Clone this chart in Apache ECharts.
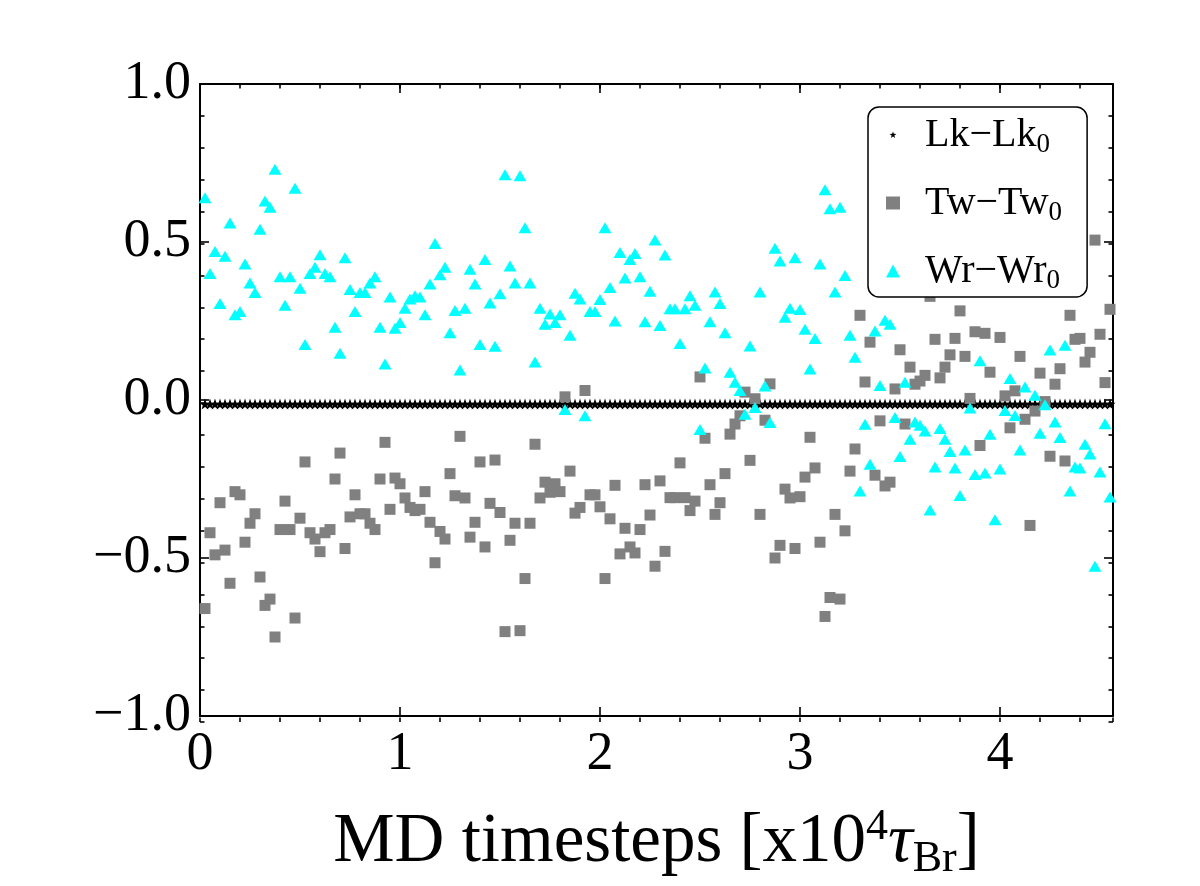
<!DOCTYPE html>
<html>
<head>
<meta charset="utf-8">
<script src="https://cdn.jsdelivr.net/npm/echarts@6/dist/echarts.min.js"></script>
<style>
  html, body { margin: 0; padding: 0; background: #fff; }
  #chart { width: 1200px; height: 886px; }
</style>
</head>
<body>
<div id="chart"></div>
<script>
// MD time axis, units of 1e4 tau_Br
const times = [
  0.025, 0.05, 0.075, 0.1, 0.125, 0.15, 0.175, 0.2, 0.225, 0.25,
  0.275, 0.3, 0.325, 0.35, 0.375, 0.4, 0.425, 0.45, 0.475, 0.5,
  0.525, 0.55, 0.575, 0.6, 0.625, 0.65, 0.675, 0.7, 0.725, 0.75,
  0.775, 0.8, 0.825, 0.85, 0.875, 0.9, 0.925, 0.95, 0.975, 1.0,
  1.025, 1.05, 1.075, 1.1, 1.125, 1.15, 1.175, 1.2, 1.225, 1.25,
  1.275, 1.3, 1.325, 1.35, 1.375, 1.4, 1.425, 1.45, 1.475, 1.5,
  1.525, 1.55, 1.575, 1.6, 1.625, 1.65, 1.675, 1.7, 1.725, 1.75,
  1.775, 1.8, 1.825, 1.85, 1.875, 1.9, 1.925, 1.95, 1.975, 2.0,
  2.025, 2.05, 2.075, 2.1, 2.125, 2.15, 2.175, 2.2, 2.225, 2.25,
  2.275, 2.3, 2.325, 2.35, 2.375, 2.4, 2.425, 2.45, 2.475, 2.5,
  2.525, 2.55, 2.575, 2.6, 2.625, 2.65, 2.675, 2.7, 2.725, 2.75,
  2.775, 2.8, 2.825, 2.85, 2.875, 2.9, 2.925, 2.95, 2.975, 3.0,
  3.025, 3.05, 3.075, 3.1, 3.125, 3.15, 3.175, 3.2, 3.225, 3.25,
  3.275, 3.3, 3.325, 3.35, 3.375, 3.4, 3.425, 3.45, 3.475, 3.5,
  3.525, 3.55, 3.575, 3.6, 3.625, 3.65, 3.675, 3.7, 3.725, 3.75,
  3.775, 3.8, 3.825, 3.85, 3.875, 3.9, 3.925, 3.95, 3.975, 4.0,
  4.025, 4.05, 4.075, 4.1, 4.125, 4.15, 4.175, 4.2, 4.225, 4.25,
  4.275, 4.3, 4.325, 4.35, 4.375, 4.4, 4.425, 4.45, 4.475, 4.5,
  4.525, 4.55
]

// Lk - Lk0 (flat, just under zero)
const lk = [
  -0.013, -0.013, -0.013, -0.013, -0.013, -0.013, -0.013, -0.013, -0.013, -0.013,
  -0.013, -0.013, -0.013, -0.013, -0.013, -0.013, -0.013, -0.013, -0.013, -0.013,
  -0.013, -0.013, -0.013, -0.013, -0.013, -0.013, -0.013, -0.013, -0.013, -0.013,
  -0.013, -0.013, -0.013, -0.013, -0.013, -0.013, -0.013, -0.013, -0.013, -0.013,
  -0.013, -0.013, -0.013, -0.013, -0.013, -0.013, -0.013, -0.013, -0.013, -0.013,
  -0.013, -0.013, -0.013, -0.013, -0.013, -0.013, -0.013, -0.013, -0.013, -0.013,
  -0.013, -0.013, -0.013, -0.013, -0.013, -0.013, -0.013, -0.013, -0.013, -0.013,
  -0.013, -0.013, -0.013, -0.013, -0.013, -0.013, -0.013, -0.013, -0.013, -0.013,
  -0.013, -0.013, -0.013, -0.013, -0.013, -0.013, -0.013, -0.013, -0.013, -0.013,
  -0.013, -0.013, -0.013, -0.013, -0.013, -0.013, -0.013, -0.013, -0.013, -0.013,
  -0.013, -0.013, -0.013, -0.013, -0.013, -0.013, -0.013, -0.013, -0.013, -0.013,
  -0.013, -0.013, -0.013, -0.013, -0.013, -0.013, -0.013, -0.013, -0.013, -0.013,
  -0.013, -0.013, -0.013, -0.013, -0.013, -0.013, -0.013, -0.013, -0.013, -0.013,
  -0.013, -0.013, -0.013, -0.013, -0.013, -0.013, -0.013, -0.013, -0.013, -0.013,
  -0.013, -0.013, -0.013, -0.013, -0.013, -0.013, -0.013, -0.013, -0.013, -0.013,
  -0.013, -0.013, -0.013, -0.013, -0.013, -0.013, -0.013, -0.013, -0.013, -0.013,
  -0.013, -0.013, -0.013, -0.013, -0.013, -0.013, -0.013, -0.013, -0.013, -0.013,
  -0.013, -0.013, -0.013, -0.013, -0.013, -0.013, -0.013, -0.013, -0.013, -0.013,
  -0.013, -0.013
]

// Tw - Tw0 (grey squares)
const tw = [
  -0.66, -0.42, -0.49, -0.325, -0.475, -0.58, -0.29, -0.30, -0.45, -0.39,
  -0.36, -0.56, -0.65, -0.63, -0.75, -0.41, -0.32, -0.41, -0.69, -0.374,
  -0.196, -0.42, -0.44, -0.48, -0.42, -0.41, -0.25, -0.168, -0.47, -0.37,
  -0.30, -0.36, -0.36, -0.39, -0.41, -0.25, -0.134, -0.346, -0.247, -0.265,
  -0.31, -0.34, -0.35, -0.346, -0.29, -0.387, -0.515, -0.416, -0.44, -0.233,
  -0.303, -0.115, -0.31, -0.434, -0.387, -0.196, -0.465, -0.327, -0.19, -0.356,
  -0.733, -0.444, -0.39, -0.73, -0.565, -0.39, -0.14, -0.31, -0.26, -0.292,
  -0.265, -0.29, 0.01, -0.225, -0.358, -0.34, 0.03, -0.30, -0.30, -0.338,
  -0.565, -0.376, -0.27, -0.487, -0.406, -0.465, -0.484, -0.41, -0.268, -0.364,
  -0.526, -0.256, -0.479, -0.309, -0.309, -0.199, -0.309, -0.35, -0.32, 0.073,
  -0.121, -0.268, -0.362, -0.325, -0.233, -0.108, -0.076, -0.05, 0.025, -0.191,
  0.004, -0.362, -0.064, 0.051, -0.50, -0.46, -0.282, -0.31, -0.47, -0.306,
  -0.244, -0.118, -0.215, -0.45, -0.685, -0.625, -0.362, -0.63, -0.414, -0.225,
  -0.155, 0.268, 0.057, 0.183, -0.238, -0.066, -0.272, -0.26, 0.035, 0.159,
  -0.076, 0.104, 0.05, 0.06, 0.078, 0.328, 0.192, 0.07, 0.104, 0.143,
  0.195, 0.282, 0.138, 0.005, 0.216, -0.144, 0.211, 0.088, 0.359, 0.198,
  0.013, -0.088, 0.029, 0.138, -0.061, -0.397, -0.035, 0.085, -0.005, -0.178,
  0.05, 0.099, -0.193, 0.268, 0.192, 0.195, 0.12, 0.151, 0.506, 0.208,
  0.055, 0.287
]

// Wr - Wr0 (cyan triangles)
const wr = [
  0.64, 0.40, 0.47, 0.305, 0.455, 0.56, 0.27, 0.28, 0.43, 0.37,
  0.34, 0.54, 0.63, 0.61, 0.73, 0.39, 0.30, 0.39, 0.67, 0.354,
  0.176, 0.40, 0.42, 0.46, 0.40, 0.39, 0.23, 0.148, 0.45, 0.35,
  0.28, 0.34, 0.34, 0.37, 0.39, 0.23, 0.114, 0.326, 0.227, 0.245,
  0.29, 0.32, 0.33, 0.326, 0.27, 0.367, 0.495, 0.396, 0.42, 0.213,
  0.283, 0.095, 0.29, 0.414, 0.367, 0.176, 0.445, 0.307, 0.17, 0.336,
  0.713, 0.424, 0.37, 0.71, 0.545, 0.37, 0.12, 0.29, 0.24, 0.272,
  0.245, 0.27, -0.03, 0.205, 0.338, 0.32, -0.05, 0.28, 0.28, 0.318,
  0.545, 0.356, 0.25, 0.467, 0.386, 0.445, 0.464, 0.39, 0.248, 0.344,
  0.506, 0.236, 0.459, 0.289, 0.289, 0.179, 0.289, 0.33, 0.30, -0.093,
  0.101, 0.248, 0.342, 0.305, 0.213, 0.088, 0.056, 0.03, -0.045, 0.171,
  -0.024, 0.342, 0.044, -0.071, 0.48, 0.44, 0.262, 0.29, 0.45, 0.286,
  0.224, 0.098, 0.195, 0.43, 0.665, 0.605, 0.342, 0.61, 0.394, 0.205,
  0.135, -0.288, -0.077, -0.203, 0.218, 0.046, 0.252, 0.24, -0.055, -0.179,
  0.056, -0.124, -0.07, -0.08, -0.098, -0.348, -0.212, -0.09, -0.124, -0.163,
  -0.215, -0.302, -0.158, -0.025, -0.236, 0.124, -0.231, -0.108, -0.379, -0.218,
  -0.033, 0.068, -0.049, -0.158, 0.041, 0.377, 0.015, -0.105, -0.015, 0.158,
  -0.07, -0.119, 0.173, -0.288, -0.212, -0.215, -0.14, -0.171, -0.526, -0.228,
  -0.075, -0.307
]

const seriesNames = ['Lk', 'Tw', 'Wr']
const xTicks = [0, 1, 2, 3, 4]
const yTicks = [-1.0, -0.5, 0.0, 0.5, 1.0]

const FONT = '"Liberation Serif", "Times New Roman", serif'
const STAR = 'path://M0,-10L2.35,-3.24L9.51,-3.09L3.8,1.24L5.88,8.09L0,4L-5.88,8.09L-3.8,1.24L-9.51,-3.09L-2.35,-3.24Z'
// same star, padded so it looks small inside the legend box
const STAR_LEGEND = 'path://M-18,-18L-18,-18M18,18L18,18M0,-10L2.35,-3.24L9.51,-3.09L3.8,1.24L5.88,8.09L0,4L-5.88,8.09L-3.8,1.24L-9.51,-3.09L-2.35,-3.24Z'

const gridBox = { left: 200, right: 87, top: 84, bottom: 164 }
const xMin = 0, xMax = 4.565

function pair(xs, ys) {
  return xs.map((x, i) => [x, ys[i]])
}

function xAx(grid, pos, interval, tickLen, opts = {}) {
  return Object.assign({
    gridIndex: grid, type: 'value', position: pos,
    min: xMin, max: xMax, interval: interval,
    axisLine: { show: grid === 0, onZero: false, lineStyle: { color: '#000', width: 2 } },
    axisTick: { show: true, inside: true, length: tickLen, lineStyle: { color: '#000', width: 1.6 } },
    axisLabel: { show: false },
    splitLine: { show: false }
  }, opts)
}

function yAx(grid, pos, interval, tickLen, opts = {}) {
  return Object.assign({
    gridIndex: grid, type: 'value', position: pos,
    min: -1, max: 1, interval: interval,
    axisLine: { show: grid === 0, onZero: false, lineStyle: { color: '#000', width: 2 } },
    axisTick: { show: true, inside: true, length: tickLen, lineStyle: { color: '#000', width: 1.6 } },
    axisLabel: { show: false },
    splitLine: { show: false }
  }, opts)
}

const chart = echarts.init(document.getElementById('chart'))

const option = {
  backgroundColor: '#fff',
  animation: false,
  grid: [
    Object.assign({}, gridBox),
    Object.assign({}, gridBox)
  ],
  xAxis: [
    xAx(0, 'bottom', 1, 9, {
      axisLabel: {
        show: true, showMaxLabel: false, margin: 12,
        fontFamily: FONT, fontSize: 54, color: '#000',
        formatter: v => xTicks.includes(v) ? String(v) : ''
      },
      name: 'MD timesteps [x10{sup|4}{tau|τ}{sub|Br}]',
      nameLocation: 'middle',
      nameGap: 89,
      nameTextStyle: {
        fontFamily: FONT, fontSize: 69, color: '#000', lineHeight: 76,
        rich: {
          sup: { fontFamily: FONT, fontSize: 44, color: '#000', verticalAlign: 'top', lineHeight: 44 },
          tau: { fontFamily: FONT, fontSize: 69, color: '#000', fontStyle: 'italic', lineHeight: 76 },
          sub: { fontFamily: FONT, fontSize: 44, color: '#000', verticalAlign: 'bottom', lineHeight: 44 }
        }
      }
    }),
    xAx(0, 'top', 1, 9),
    xAx(1, 'bottom', 0.2, 4.5),
    xAx(1, 'top', 0.2, 4.5)
  ],
  yAxis: [
    yAx(0, 'left', 0.5, 9, {
      axisLabel: {
        show: true, margin: 9,
        fontFamily: FONT, fontSize: 54, color: '#000',
        formatter: v => yTicks.includes(v) ? (v < 0 ? '\u2212' : '') + Math.abs(v).toFixed(1) : ''
      }
    }),
    yAx(0, 'right', 0.5, 9),
    yAx(1, 'left', 0.1, 4.5),
    yAx(1, 'right', 0.1, 4.5)
  ],
  legend: {
    orient: 'vertical',
    left: 868,
    top: 107,
    padding: [5, 25, 3, 18],
    itemGap: 22,
    itemWidth: 14,
    itemHeight: 13,
    borderColor: '#000',
    borderWidth: 1.5,
    borderRadius: 11,
    backgroundColor: '#fff',
    data: [
      { name: 'Lk', icon: STAR_LEGEND },
      { name: 'Tw', icon: 'rect' },
      { name: 'Wr', icon: 'triangle' }
    ],
    formatter: name => name + '\u2212' + name + '{s|0}',
    textStyle: {
      fontFamily: FONT, fontSize: 40, color: '#000', lineHeight: 46,
      padding: [0, 0, 0, 20],
      rich: {
        s: { fontFamily: FONT, fontSize: 27, color: '#000', verticalAlign: 'bottom', lineHeight: 27 }
      }
    }
  },
  series: [
    {
      name: seriesNames[0], type: 'scatter',
      xAxisIndex: 0, yAxisIndex: 0,
      symbol: STAR, symbolSize: 11,
      itemStyle: { color: '#000', opacity: 1 },
      data: pair(times, lk)
    },
    {
      name: seriesNames[1], type: 'scatter',
      xAxisIndex: 0, yAxisIndex: 0,
      symbol: 'rect', symbolSize: 11,
      itemStyle: { color: '#808080', opacity: 1 },
      data: pair(times, tw)
    },
    {
      name: seriesNames[2], type: 'scatter',
      xAxisIndex: 0, yAxisIndex: 0,
      symbol: 'triangle', symbolSize: [13, 11],
      itemStyle: { color: '#00ffff', opacity: 1 },
      data: pair(times, wr)
    }
  ]
}

chart.setOption(option)
</script>
</body>
</html>
